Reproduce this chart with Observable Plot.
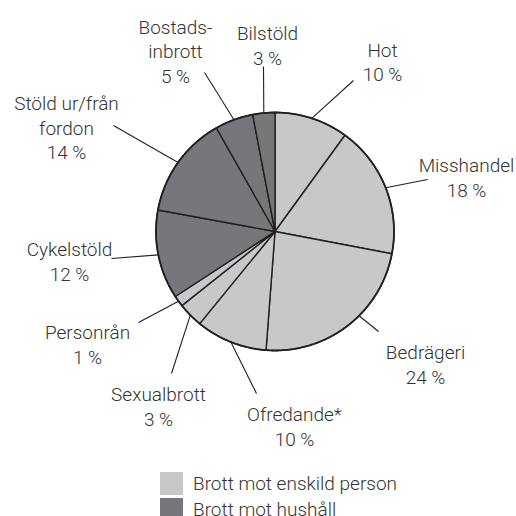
<!DOCTYPE html>
<html>
<head>
<meta charset="utf-8">
<script src="https://cdn.jsdelivr.net/npm/d3@7"></script>
<script src="https://cdn.jsdelivr.net/npm/@observablehq/plot@0.6"></script>
<style>
  html, body { margin: 0; padding: 0; background: #fff; }
  #wrap { width: 516px; height: 516px; overflow: hidden; position: relative; }
  .legend { position: absolute; left: 160px; top: 470px; font-family: "Roboto", "Liberation Sans", sans-serif; font-weight: 300; font-size: 19px; color: #333; }
  .legend .row { display: flex; align-items: center; height: 26px; }
  .legend .sw { width: 23px; height: 23px; margin-right: 10px; flex: none; }
</style>
</head>
<body>
<div id="wrap"></div>
<script>
// ---- data ----
const categories = ["Hot", "Misshandel", "Bedrägeri", "Ofredande*", "Sexualbrott", "Personrån", "Cykelstöld", "Stöld ur/från fordon", "Bostadsinbrott", "Bilstöld"];
const groups = ["enskild", "enskild", "enskild", "enskild", "enskild", "enskild", "hushåll", "hushåll", "hushåll", "hushåll"];
// slice shares
const shares = [10, 18, 23.2, 9.7, 3.4, 1.5, 12.1, 13.9, 5.2, 3.0];
// printed percentages
const percents = [10, 18, 24, 10, 3, 1, 12, 14, 5, 3];
const labelLines = [["Hot"], ["Misshandel"], ["Bedrägeri"], ["Ofredande*"], ["Sexualbrott"], ["Personrån"], ["Cykelstöld"], ["Stöld ur/från", "fordon"], ["Bostads-", "inbrott"], ["Bilstöld"]];
const groupKeys = ["enskild", "hushåll"];
const legendLabels = ["Brott mot enskild person", "Brott mot hushåll"];

// ---- layout (pixels relative to pie centre, y downward) ----
const R = 119;
const W = 516, H = 468, CX = 274.5, CY = 231;
const colors = ["#c7c8ca", "#76777b"];
const leaderEnd = [[78.5, -151], [152.5, -52], [103.5, 100], [-18.5, 162], [-103.5, 142], [-136.5, 91], [-163.5, 27], [-161.5, -106], [-70.5, -159], [-11.5, -165]];
const textPos = [[107.5, -192], [191.5, -76.5], [150.5, 110.5], [19.5, 172.5], [-116.5, 152.5], [-187.5, 90.5], [-205.5, 7.5], [-208.5, -138.5], [-99.5, -215], [-7.5, -208.5]];
const angleAdjust = [0, 0, -7.5, 0, 0, 0, 0, 0, 0, 0];

// ---- build geometry ----
const total = d3.sum(shares);
const slices = [];
const leaders = [];
const labels = [];
let acc = 0;
categories.forEach((name, i) => {
  const a0 = acc / total * 2 * Math.PI;
  acc += shares[i];
  const a1 = acc / total * 2 * Math.PI;
  const n = Math.max(2, Math.ceil((a1 - a0) / (Math.PI / 180)));
  slices.push({name, group: groups[i], x: 0, y: 0});
  for (let k = 0; k <= n; k++) {
    const a = a0 + (a1 - a0) * k / n;
    slices.push({name, group: groups[i], x: R * Math.sin(a), y: -R * Math.cos(a)});
  }
  slices.push({name, group: groups[i], x: 0, y: 0});
  const am = (a0 + a1) / 2 + angleAdjust[i] * Math.PI / 180;
  leaders.push({x1: R * Math.sin(am), y1: -R * Math.cos(am), x2: leaderEnd[i][0], y2: leaderEnd[i][1]});
  labels.push({x: textPos[i][0], y: textPos[i][1], text: [...labelLines[i], percents[i] + " %"].join("\n")});
});

const outline = d3.range(0, 361).map(d => ({x: R * Math.sin(d * Math.PI / 180), y: -R * Math.cos(d * Math.PI / 180)}));

const chart = Plot.plot({
  width: W,
  height: H,
  margin: 0,
  style: {fontFamily: "Roboto, 'Liberation Sans', sans-serif", background: "#fff", overflow: "visible"},
  x: {domain: [-CX, W - CX], range: [0, W], axis: null},
  y: {domain: [-CY, H - CY], range: [0, H], axis: null},
  color: {domain: groupKeys, range: colors},
  marks: [
    Plot.line(slices, {x: "x", y: "y", z: "name", fill: "group", stroke: "#231f20", strokeWidth: 1.4, strokeLinejoin: "round", curve: "linear"}),
    Plot.line(outline, {x: "x", y: "y", stroke: "#231f20", strokeWidth: 1.8, curve: "linear"}),
    Plot.link(leaders, {x1: "x1", y1: "y1", x2: "x2", y2: "y2", stroke: "#231f20", strokeWidth: 1.1}),
    Plot.text(labels, {x: "x", y: "y", text: "text", textAnchor: "middle", lineAnchor: "top", lineHeight: 1.29, fontSize: 19, fontWeight: 300, fill: "#333"})
  ]
});

const wrap = document.getElementById("wrap");
wrap.appendChild(chart);
const legend = document.createElement("div");
legend.className = "legend";
groupKeys.forEach((g, i) => {
  const row = document.createElement("div");
  row.className = "row";
  const sw = document.createElement("span");
  sw.className = "sw";
  sw.style.background = colors[i];
  const t = document.createElement("span");
  t.textContent = legendLabels[i];
  row.appendChild(sw);
  row.appendChild(t);
  legend.appendChild(row);
});
wrap.appendChild(legend);
</script>
</body>
</html>
